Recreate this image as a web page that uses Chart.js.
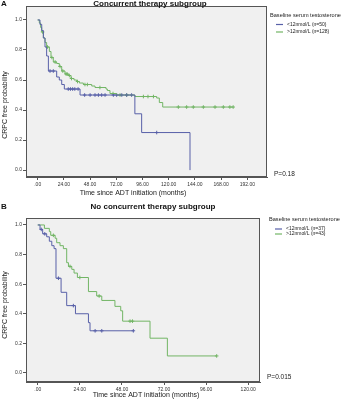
<!DOCTYPE html>
<html lang="en">
<head>
  <meta charset="UTF-8">
  <title>CRPC free probability by baseline testosterone</title>
  <script src="https://cdn.jsdelivr.net/npm/chart.js"></script>
  <style>
    body { margin: 0; background: #fff; }
    .panel { width: 343px; height: 200px; }
  </style>
</head>
<body>
  <div class="panel"><canvas id="chartA" width="343" height="200"></canvas></div>
  <div class="panel"><canvas id="chartB" width="343" height="200"></canvas></div>

  <script>
    // Panel A - concurrent therapy subgroup
    const aLowTimes = [0, 2.1, 3.7, 5.2, 6.7, 8.2, 9.8, 17.4, 19.8, 22, 24.4, 38.8, 89, 95.2, 139.5];
    const aLowSurv  = [1, 0.97, 0.93, 0.88, 0.82, 0.76, 0.66, 0.62, 0.60, 0.57, 0.54, 0.50, 0.375, 0.25, 0];
    const aLowCensor = [11.3, 14.3, 28, 30, 32, 34, 37, 43, 48, 52.5, 55.6, 58.6, 61.7, 69.3, 72.3, 77, 81.5, 86, 109];

    const aHighTimes = [0, 1.5, 2.7, 3.7, 5.2, 6.7, 8.2, 10.7, 12.2, 14.3, 17.4, 19.8, 22, 25, 28, 30.5, 33.3, 35.7, 38.2, 41.8, 49.5, 52.5, 62.6, 63.8, 66.2, 72.3, 89, 109, 111.4, 114.5, 179];
    const aHighSurv  = [1, 0.98, 0.95, 0.92, 0.88, 0.85, 0.82, 0.79, 0.75, 0.72, 0.71, 0.69, 0.66, 0.64, 0.63, 0.61, 0.60, 0.59, 0.58, 0.57, 0.56, 0.55, 0.54, 0.53, 0.51, 0.50, 0.49, 0.48, 0.45, 0.42, 0.42];
    const aHighCensor = [4.5, 9, 13, 16, 20.5, 23, 26, 27, 29, 31, 36.5, 43.3, 45.5, 57, 69, 75.4, 81.5, 96.8, 101, 106, 128.8, 136.4, 142.5, 151.7, 162.4, 170, 176, 179];

    // Panel B - no concurrent therapy subgroup
    const bLowTimes = [0, 1.3, 2.8, 5.1, 6.6, 8, 9.3, 10.4, 13.3, 16.5, 21.5, 28.9, 29.8, 54.5];
    const bLowSurv  = [1, 0.97, 0.94, 0.92, 0.89, 0.86, 0.84, 0.64, 0.545, 0.455, 0.40, 0.34, 0.285, 0.285];
    const bLowCensor = [2, 4, 11.8, 20.3, 32.7, 36.5, 54.5];

    const bHighTimes = [0, 3.8, 6.6, 7.4, 9.9, 10.8, 12.7, 14.6, 16.5, 17.5, 19.4, 20.7, 22.6, 28.9, 33.6, 36.5, 44, 47.3, 48.4, 64, 73.9, 102];
    const bHighSurv  = [1, 0.977, 0.955, 0.93, 0.91, 0.88, 0.86, 0.84, 0.745, 0.72, 0.70, 0.675, 0.645, 0.55, 0.52, 0.49, 0.45, 0.42, 0.35, 0.235, 0.115, 0.115];
    const bHighCensor = [8.9, 18.4, 24, 35, 52.6, 54, 102];

    const yTicks = [0, 0.2, 0.4, 0.6, 0.8, 1.0];
    const aXTicks = [0, 24, 48, 72, 96, 120, 144, 168, 192];
    const bXTicks = [0, 24, 48, 72, 96, 120];

    const blue = '#5860a8';
    const green = '#72b565';
    const font = 'Liberation Sans, Arial, sans-serif';

    function stepAt(times, surv, t) {
      let s = surv[0];
      for (let i = 0; i < times.length; i++) {
        if (times[i] <= t) s = surv[i];
      }
      return s;
    }

    function curve(times, surv, color) {
      return {
        type: 'line',
        data: times.map((t, i) => ({ x: t, y: surv[i] })),
        borderColor: color,
        borderWidth: 1,
        pointRadius: 0,
        stepped: true,
        fill: false
      };
    }

    function censors(times, surv, cens, color) {
      return {
        type: 'scatter',
        data: cens.map(t => ({ x: t, y: stepAt(times, surv, t) })),
        borderColor: color,
        backgroundColor: color,
        pointStyle: 'cross',
        pointRadius: 1.8,
        borderWidth: 1
      };
    }

    function panelPlugin(p) {
      return {
        id: 'panel' + p.letter,
        beforeDraw(chart) {
          const ctx = chart.ctx, a = chart.chartArea;
          ctx.save();
          ctx.fillStyle = '#fff';
          ctx.fillRect(0, 0, chart.width, chart.height);
          ctx.fillStyle = '#f0f0f0';
          ctx.fillRect(a.left, a.top, a.right - a.left, a.bottom - a.top);
          ctx.restore();
        },
        afterDraw(chart) {
          const ctx = chart.ctx, a = chart.chartArea;
          ctx.save();
          ctx.strokeStyle = '#555';
          ctx.lineWidth = 1;
          ctx.strokeRect(a.left + 0.5, a.top + 0.5, a.right - a.left - 1, a.bottom - a.top - 1);

          ctx.fillStyle = '#111';
          ctx.textBaseline = 'middle';
          ctx.font = 'bold 8px ' + font;
          ctx.textAlign = 'left';
          ctx.fillText(p.letter, 1, p.titleY);
          ctx.textAlign = 'center';
          ctx.fillText(p.title, p.titleX, p.titleY);

          ctx.font = '7px ' + font;
          ctx.fillStyle = '#222';
          ctx.fillText('Time since ADT initiation (months)', p.xTitleX, p.xTitleY);
          ctx.save();
          ctx.translate(5, p.yTitleY);
          ctx.rotate(-Math.PI / 2);
          ctx.fillText('CRPC free probability', 0, 0);
          ctx.restore();

          ctx.textAlign = 'left';
          ctx.font = '5.6px ' + font;
          ctx.fillText('Baseline serum testosterone', p.legX, p.legY);
          ctx.font = '5px ' + font;
          p.legItems.forEach((it, i) => {
            const y = p.legItemY[i];
            ctx.strokeStyle = it.color;
            ctx.lineWidth = 1.2;
            ctx.beginPath();
            ctx.moveTo(p.legX + 6, y);
            ctx.lineTo(p.legX + 13, y);
            ctx.stroke();
            ctx.fillText(it.label, p.legX + 17, y);
          });

          ctx.font = '6.5px ' + font;
          ctx.fillText(p.pText, p.pX, p.pY);
          ctx.restore();
        }
      };
    }

    function makeChart(id, p) {
      const tickFont = { family: font, size: 5 };
      return new Chart(document.getElementById(id), {
        data: {
          datasets: [
            curve(p.lowT, p.lowS, blue),
            curve(p.highT, p.highS, green),
            censors(p.lowT, p.lowS, p.lowC, blue),
            censors(p.highT, p.highS, p.highC, green)
          ]
        },
        options: {
          responsive: false,
          animation: false,
          devicePixelRatio: 1,
          layout: { padding: p.padding },
          plugins: { legend: { display: false }, title: { display: false }, tooltip: { enabled: false } },
          scales: {
            x: {
              type: 'linear',
              min: p.xMin,
              max: p.xMax,
              afterBuildTicks: s => { s.ticks = p.xTicks.map(v => ({ value: v })); },
              afterFit: s => { s.height = p.xHeight; },
              ticks: {
                font: tickFont, color: '#333', padding: 2, maxRotation: 0, autoSkip: false,
                callback: v => v === 0 ? '.00' : v.toFixed(2)
              },
              grid: { drawOnChartArea: false, tickLength: 3, color: '#555' },
              border: { color: '#555' }
            },
            y: {
              type: 'linear',
              min: p.yMin,
              max: p.yMax,
              afterBuildTicks: s => { s.ticks = yTicks.map(v => ({ value: v })); },
              afterFit: s => { s.width = p.yWidth; },
              ticks: {
                font: tickFont, color: '#333', padding: 1,
                callback: v => v.toFixed(1)
              },
              grid: { drawOnChartArea: false, tickLength: 3, color: '#555' },
              border: { color: '#555' }
            }
          }
        },
        plugins: [panelPlugin(p)]
      });
    }

    makeChart('chartA', {
      letter: 'A', title: 'Concurrent therapy subgroup', titleX: 150, titleY: 4,
      lowT: aLowTimes, lowS: aLowSurv, lowC: aLowCensor,
      highT: aHighTimes, highS: aHighSurv, highC: aHighCensor,
      xTicks: aXTicks, xMin: -10.7, xMax: 210, yMin: -0.046, yMax: 1.093,
      padding: { left: 0, top: 6, right: 76, bottom: 0 }, yWidth: 26, xHeight: 23,
      xTitleX: 133, xTitleY: 193, yTitleY: 105,
      legX: 270, legY: 15, legItemY: [24.5, 32],
      legItems: [{ color: blue, label: '<12nmol/L (n=50)' }, { color: green, label: '>12nmol/L (n=128)' }],
      pText: 'P=0.18', pX: 274, pY: 174
    });

    makeChart('chartB', {
      letter: 'B', title: 'No concurrent therapy subgroup', titleX: 153, titleY: 7,
      lowT: bLowTimes, lowS: bLowSurv, lowC: bLowCensor,
      highT: bHighTimes, highS: bHighSurv, highC: bHighCensor,
      xTicks: bXTicks, xMin: -6.7, xMax: 126.7, yMin: -0.061, yMax: 1.047,
      padding: { left: 0, top: 18, right: 83, bottom: 0 }, yWidth: 26, xHeight: 18,
      xTitleX: 146, xTitleY: 195, yTitleY: 105,
      legX: 269, legY: 19, legItemY: [29, 34],
      legItems: [{ color: blue, label: '<12nmol/L (n=37)' }, { color: green, label: '>12nmol/L (n=43)' }],
      pText: 'P=0.015', pX: 267, pY: 177
    });
  </script>
</body>
</html>
